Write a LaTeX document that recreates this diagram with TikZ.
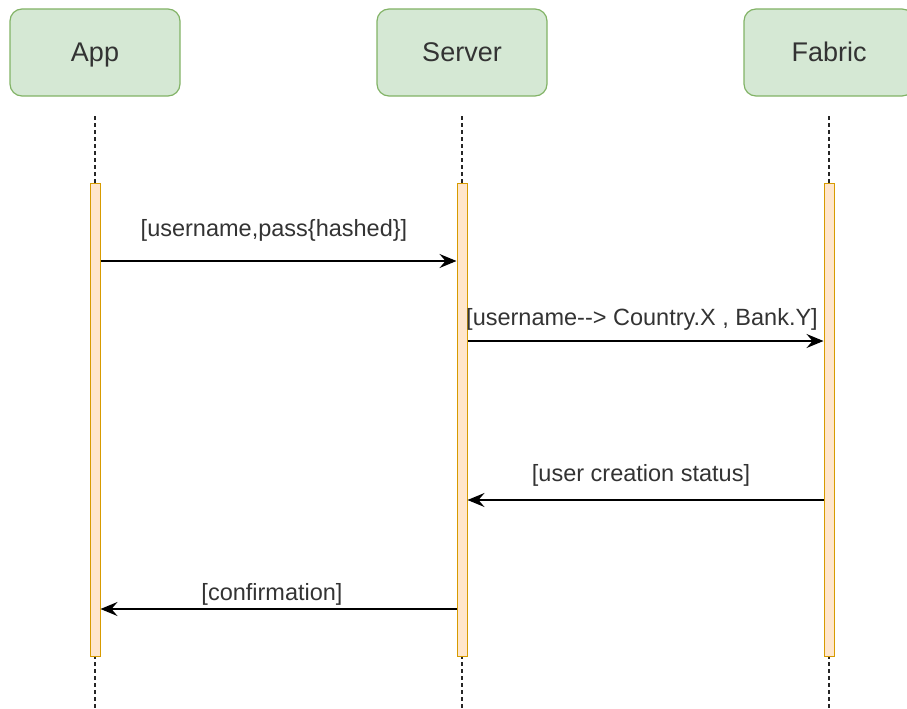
\documentclass[tikz,border=0pt]{standalone}
\usepackage{fontspec}
\setmainfont{Liberation Sans}
\usetikzlibrary{arrows.meta}
\definecolor{boxfill}{HTML}{D5E8D4}
\definecolor{boxdraw}{HTML}{82B366}
\definecolor{actfill}{HTML}{FFE6CC}
\definecolor{actdraw}{HTML}{D79B00}
\definecolor{txt}{HTML}{333333}
\tikzset{
  actor/.style={draw=boxdraw, fill=boxfill, line width=1.2pt, rounded corners=12pt,
    minimum width=170pt, minimum height=87pt, text=txt, font=\fontsize{27}{32}\selectfont,
    inner sep=0pt, text height=20pt, text depth=2pt},
  actbar/.style={draw=actdraw, fill=actfill, line width=1pt, minimum width=10pt, minimum height=473pt, inner sep=0pt},
  lifeline/.style={dash pattern=on 4pt off 3pt, line width=1.2pt, draw=black!85},
  msg/.style={line width=1.5pt, -{Stealth[length=17pt,width=14pt,inset=6pt]}},
  lbl/.style={text=txt, font=\fontsize{23.5}{27}\selectfont, inner sep=0pt, anchor=base},
}
\begin{document}
\begin{tikzpicture}[x=1pt,y=-1pt]
\useasboundingbox (0,0) rectangle (907,709);
\begin{scope}
\clip (0,0) rectangle (907,709);
\node[actor] (app) at (95,52.5) {App};
\node[actor] (server) at (462,52.5) {Server};
\node[actor] (fabric) at (829,52.5) {Fabric};
\coordinate (appT) at (95,116);
\coordinate (serverT) at (462,116);
\coordinate (fabricT) at (829,116);
\coordinate (appB) at (95,709);
\coordinate (serverB) at (462,709);
\coordinate (fabricB) at (829,709);
\draw[lifeline] (appT) -- (appB);
\draw[lifeline] (serverT) -- (serverB);
\draw[lifeline] (fabricT) -- (fabricB);
\node[actbar] (appA) at (95,419.5) {};
\node[actbar] (serverA) at (462,419.5) {};
\node[actbar] (fabricA) at (829,419.5) {};
\end{scope}
\draw[msg] (appA.east |- 0,261) -- (serverA.west |- 0,261);
\node[lbl] (l1) at (274,236) {[username,pass\{hashed\}]};
\draw[msg] (serverA.east |- 0,341) -- (fabricA.west |- 0,341);
\node[lbl] (l2) at (642,325) {[username-{}-> Country.X , Bank.Y]};
\draw[msg] (fabricA.west |- 0,500) -- (serverA.east |- 0,500);
\node[lbl] (l3) at (641,481) {[user creation status]};
\draw[msg] (serverA.west |- 0,609) -- (appA.east |- 0,609);
\node[lbl] (l4) at (272,600) {[confirmation]};
\end{tikzpicture}
\end{document}
